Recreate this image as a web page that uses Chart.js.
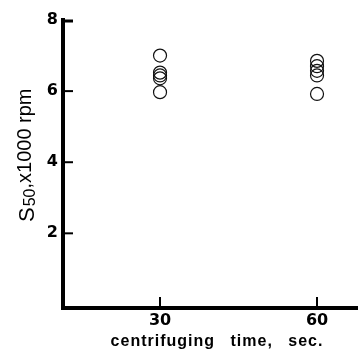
<!DOCTYPE html>
<html>
<head>
<meta charset="utf-8">
<script src="https://cdn.jsdelivr.net/npm/chart.js@4/dist/chart.umd.min.js"></script>
<style>
  html, body { margin: 0; padding: 0; background: #fff; }
  canvas { display: block; }
</style>
</head>
<body>
<canvas id="c" width="358" height="350"></canvas>
<script>
// ---- data ----
const centrifugingTimes = [30, 60];              // sec.
const s50At30s = [7.0, 6.52, 6.44, 6.36, 5.97];  // S50, x1000 rpm
const s50At60s = [6.85, 6.70, 6.57, 6.44, 5.92];
const xTickValues = [30, 60];
const yTickValues = [2, 4, 6, 8];
const xTitle = 'centrifuging time, sec.';
const yTitleMain = 'S';
const yTitleSub = '50';
const yTitleRest = ',x1000 rpm';

const points = [
  ...s50At30s.map(v => ({ x: centrifugingTimes[0], y: v })),
  ...s50At60s.map(v => ({ x: centrifugingTimes[1], y: v }))
];

const decorPlugin = {
  id: 'decor',
  afterDraw(chart) {
    const ctx = chart.ctx;
    const area = chart.chartArea;
    const xs = chart.scales.x, ys = chart.scales.y;
    ctx.save();
    ctx.strokeStyle = '#000';
    ctx.lineCap = 'butt';
    // inward y ticks
    yTickValues.forEach(v => {
      let py = ys.getPixelForValue(v);
      ctx.lineWidth = 2;
      if (v === yTickValues[yTickValues.length - 1]) { ctx.lineWidth = 3; py += 1; }
      ctx.beginPath();
      ctx.moveTo(area.left + 1, py);
      ctx.lineTo(area.left + 10, py);
      ctx.stroke();
    });
    // inward x ticks
    xTickValues.forEach(v => {
      const px = xs.getPixelForValue(v);
      ctx.lineWidth = 2;
      ctx.beginPath();
      ctx.moveTo(px, area.bottom - 1);
      ctx.lineTo(px, area.bottom - 11);
      ctx.stroke();
    });
    // x title
    ctx.fillStyle = '#000';
    ctx.font = 'bold 16px "Liberation Sans", Arial, sans-serif';
    ctx.letterSpacing = '1px';
    ctx.wordSpacing = '10px';
    ctx.textAlign = 'center';
    ctx.textBaseline = 'alphabetic';
    ctx.fillText(xTitle, 217, 346);
    ctx.letterSpacing = '0px';
    ctx.wordSpacing = '0px';
    // y title (rotated, with subscript)
    ctx.translate(0, 222);
    ctx.rotate(-Math.PI / 2);
    ctx.textAlign = 'left';
    let x = 0;
    ctx.font = '22px "Liberation Sans", Arial, sans-serif';
    ctx.fillText(yTitleMain, x, 34);
    x += ctx.measureText(yTitleMain).width + 1;
    ctx.font = '16px "Liberation Sans", Arial, sans-serif';
    ctx.fillText(yTitleSub, x, 35);
    x += ctx.measureText(yTitleSub).width;
    ctx.font = '20px "Liberation Sans", Arial, sans-serif';
    ctx.fillText(yTitleRest, x, 31);
    ctx.restore();
  }
};

new Chart(document.getElementById('c'), {
  type: 'scatter',
  data: {
    datasets: [{
      data: points,
      pointRadius: 6.5,
      pointHoverRadius: 6.5,
      pointBorderWidth: 1.2,
      pointBorderColor: '#111',
      pointBackgroundColor: 'rgba(0,0,0,0)',
      showLine: false
    }]
  },
  options: {
    responsive: false,
    animation: false,
    layout: { autoPadding: false, padding: { top: 20, right: 0, left: 0, bottom: 0 } },
    plugins: { legend: { display: false }, tooltip: { enabled: false }, title: { display: false } },
    scales: {
      x: {
        type: 'linear',
        min: 11.46,
        max: 67.83,
        grid: { display: false, drawTicks: false },
        border: { display: true, width: 4, color: '#000' },
        ticks: {
          padding: 3,
          color: '#000',
          font: { family: '"DejaVu Sans", sans-serif', size: 16, weight: 'bold' },
          callback: v => String(v)
        },
        afterBuildTicks: s => { s.ticks = xTickValues.map(v => ({ value: v })); },
        afterFit: s => { s.height = 42; }
      },
      y: {
        min: -0.1,
        max: 8,
        grid: { display: false, drawTicks: false },
        border: { display: true, width: 4, color: '#000' },
        ticks: {
          padding: 5,
          color: '#000',
          font: { family: '"DejaVu Sans", sans-serif', size: 16, weight: 'bold' },
          callback: v => String(v)
        },
        afterBuildTicks: s => { s.ticks = yTickValues.map(v => ({ value: v })); },
        afterFit: s => { s.width = 63; }
      }
    }
  },
  plugins: [decorPlugin]
});
</script>
</body>
</html>
